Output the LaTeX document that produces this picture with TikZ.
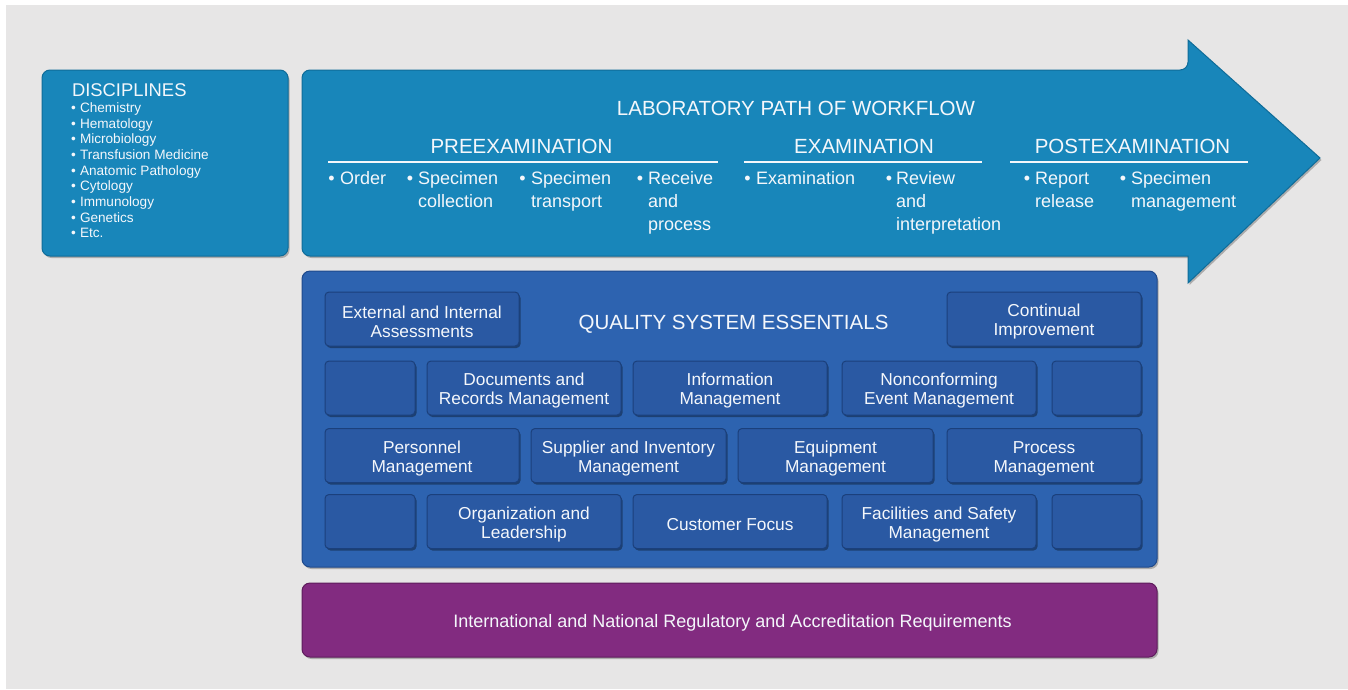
\documentclass[tikz,border=0pt]{standalone}
\usepackage{fontspec}
\setmainfont{Liberation Sans}
\usetikzlibrary{shadows}
\definecolor{bgc}{HTML}{E7E6E6}
\definecolor{tealc}{HTML}{1886BA}
\definecolor{teald}{HTML}{0F6C99}
\definecolor{qsb}{HTML}{2D63B0}
\definecolor{qsd}{HTML}{1F4A8C}
\definecolor{ibx}{HTML}{2A59A3}
\definecolor{ibd}{HTML}{1B407C}
\definecolor{purp}{HTML}{822B80}
\definecolor{purpd}{HTML}{5E1C5C}
\definecolor{txt}{HTML}{F4F7FB}
\newcommand\wfitem[4]{%
  \node[bul] (#1b) at (#2,184) {\textbullet};
  \foreach \t [count=\i] in {#4} {\node[itm] (#1-\i) at (#3,{184+23*(\i-1)}) {\t};}
}
\newcommand\qitem[5]{%
  \node[ibox, minimum width=#4pt] (#1) at (#2,#3) {};
  \node[ilab] (#1-t) at (#2,{#3+3}) {#5};
}
\begin{document}
\begin{tikzpicture}[x=1pt,y=-1pt,
  every node/.style={text=txt, inner sep=0pt, outer sep=0pt},
  bigbox/.style={rounded corners=8pt, line width=1pt, drop shadow={shadow xshift=1.5pt, shadow yshift=-2pt, fill=black, opacity=0.25}},
  ibox/.style={draw=ibd, line width=1pt, fill=ibx, rounded corners=4pt, minimum height=54pt,
    drop shadow={shadow xshift=1.5pt, shadow yshift=-2pt, fill=black, opacity=0.35}},
  ilab/.style={align=center, font=\fontsize{17.3}{19}\selectfont},
  head/.style={font=\fontsize{20.5}{24}\selectfont, anchor=base},
  itm/.style={font=\fontsize{18}{23}\selectfont, anchor=base west},
  bul/.style={font=\fontsize{18}{23}\selectfont, anchor=base},
  disc/.style={font=\fontsize{13.6}{15.7}\selectfont, anchor=base west},
  dbul/.style={font=\fontsize{13.6}{15.7}\selectfont, anchor=base},
  rulel/.style={draw=txt, line width=1.5pt},
]
\useasboundingbox (0,0) rectangle (1348,689);
\fill[white] (0,0) rectangle (1348,689);
\fill[bgc] (6,5) rectangle (1348,689);

% disciplines
\node[bigbox, draw=teald, fill=tealc, minimum width=246pt, minimum height=186pt] (discbox) at (165,163) {};
\node[anchor=base west, font=\fontsize{18.4}{20}\selectfont] (dhead) at (72,96.6) {DISCIPLINES};
\foreach \d [count=\i] in {Chemistry,Hematology,Microbiology,Transfusion Medicine,Anatomic Pathology,Cytology,Immunology,Genetics,Etc.} {
  \node[dbul] (db\i) at (73.5,{112.5+15.65*(\i-1)}) {\textbullet};
  \node[disc] (dt\i) at (80,{112.5+15.65*(\i-1)}) {\d};
}

% workflow arrow
\path[fill=tealc, draw=teald, line width=1pt, drop shadow={shadow xshift=1.5pt, shadow yshift=-2pt, fill=black, opacity=0.25}]
  [rounded corners=8pt] (1188,256) -- (302,256) -- (302,70) -- (1188,70)
  [sharp corners] -- (1188,40) -- (1320,158) -- (1188,283) -- cycle;
\node[head] (lab) at (796,115) {LABORATORY PATH OF WORKFLOW};
\node[head] (pre) at (521.5,153) {PREEXAMINATION};
\node[head] (exa) at (864,153) {EXAMINATION};
\node[head] (pst) at (1132.5,153) {POSTEXAMINATION};
\draw[rulel] (328,162) -- (718,162);
\draw[rulel] (744,162) -- (982,162);
\draw[rulel] (1010,162) -- (1248,162);
\wfitem{ord}{331.5}{340}{Order}
\wfitem{col}{410}{418}{Specimen,collection}
\wfitem{trn}{522.5}{531}{Specimen,transport}
\wfitem{rcv}{640}{648}{Receive,and,process}
\wfitem{exm}{747.5}{756}{Examination}
\wfitem{rev}{889}{896}{Review,and,interpretation}
\wfitem{rep}{1027}{1035}{Report,release}
\wfitem{spm}{1123}{1131}{Specimen,management}

% quality system essentials
\node[bigbox, draw=qsd, fill=qsb, minimum width=855pt, minimum height=296pt] (qbox) at (729.5,419) {};
\node[head] (qse) at (733.5,329) {QUALITY SYSTEM ESSENTIALS};
\qitem{ext}{422}{319}{194}{External and Internal\\Assessments}
\qitem{cnt}{1044}{319}{194}{Continual\\Improvement}
\qitem{b1}{370}{388}{90}{}
\qitem{doc}{524}{388}{194}{Documents and\\Records Management}
\qitem{inf}{730}{388}{194}{Information\\Management}
\qitem{nce}{939}{388}{194}{Nonconforming\\Event Management}
\qitem{b2}{1096.5}{388}{89}{}
\qitem{per}{422}{455.5}{194}{Personnel\\Management}
\qitem{sup}{628.5}{455.5}{195}{Supplier and Inventory\\Management}
\qitem{eqp}{835.5}{455.5}{195}{Equipment\\Management}
\qitem{prc}{1044}{455.5}{194}{Process\\Management}
\qitem{b3}{370}{521.5}{90}{}
\qitem{org}{524}{521.5}{194}{Organization and\\Leadership}
\qitem{cus}{730}{521.5}{194}{Customer Focus}
\qitem{fac}{939}{521.5}{194}{Facilities and Safety\\Management}
\qitem{b4}{1096.5}{521.5}{89}{}

% regulatory
\node[bigbox, draw=purpd, fill=purp, minimum width=855pt, minimum height=74pt] (reg) at (729.5,620) {};
\node[font=\fontsize{18}{20}\selectfont] (regt) at (732.5,623) {International and National Regulatory and Accreditation Requirements};
\end{tikzpicture}
\end{document}
